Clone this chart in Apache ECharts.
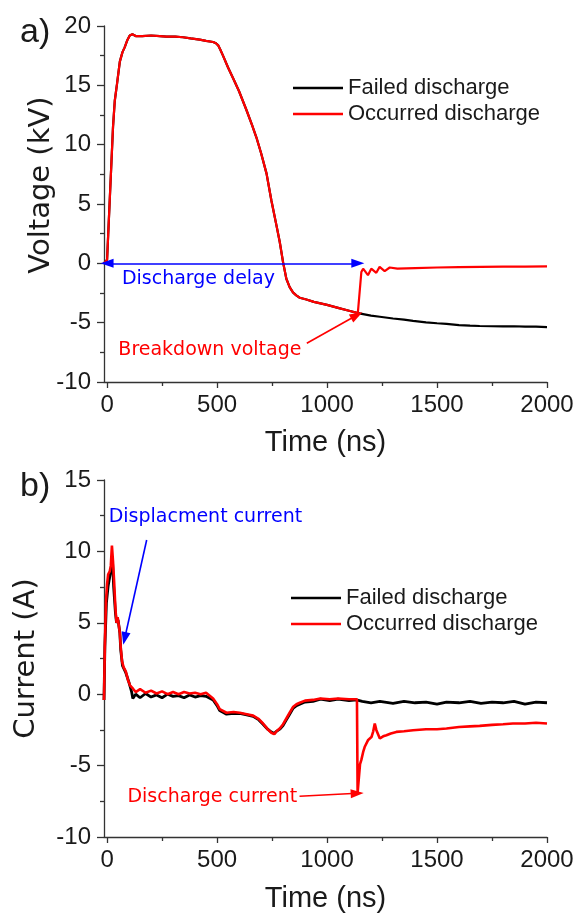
<!DOCTYPE html>
<html>
<head>
<meta charset="utf-8">
<style>
  html, body { margin: 0; padding: 0; background: #fff; }
  #chart { width: 579px; height: 915px; }
</style>
<script src="https://cdn.jsdelivr.net/npm/echarts@6/dist/echarts.min.js"></script>
</head>
<body>
<div id="chart"></div>
<script>
// ---- Panel a) voltage (kV) vs time (ns) ----
// Common part of both shots, up to the breakdown instant
const voltSharedT = [-14, 0, 5, 12, 20, 27, 35, 45, 58, 70, 80, 92, 103, 115, 130, 160, 200, 240, 270, 310, 345, 380, 421, 450, 482, 495, 505, 515, 527, 550, 574, 600, 634, 660, 679, 700, 725, 747, 770, 785, 800, 815, 830, 845, 860, 876, 906, 940, 1000, 1050, 1100, 1140];
const voltSharedV = [0, 0.3, 2.4, 5.3, 8.6, 11.5, 13.7, 15.1, 17.0, 17.8, 18.2, 18.8, 19.2, 19.3, 19.15, 19.15, 19.2, 19.15, 19.1, 19.1, 19.05, 18.95, 18.85, 18.75, 18.65, 18.55, 18.37, 18.0, 17.5, 16.5, 15.56, 14.5, 12.9, 11.6, 10.6, 9.3, 7.56, 5.3, 3.2, 1.8, 0.1, -1.3, -2.0, -2.45, -2.7, -2.9, -3.05, -3.25, -3.5, -3.75, -4.0, -4.2];
// Failed discharge: keeps decaying
const voltFailedTailT = [1200, 1240, 1300, 1350, 1391, 1450, 1500, 1543, 1600, 1650, 1694, 1750, 1800, 1850, 1900, 1950, 2000];
const voltFailedTailV = [-4.4, -4.5, -4.65, -4.75, -4.85, -4.97, -5.05, -5.1, -5.2, -5.25, -5.28, -5.3, -5.32, -5.3, -5.34, -5.33, -5.38];
// Occurred discharge: collapses towards zero
const voltOccurredTailT = [1156, 1164, 1171, 1186, 1201, 1224, 1239, 1262, 1285, 1320, 1400, 1500, 1600, 1700, 1800, 1900, 2000];
const voltOccurredTailV = [-0.73, -0.45, -0.3, -1.0, -0.45, -0.8, -0.3, -0.65, -0.35, -0.45, -0.4, -0.35, -0.32, -0.3, -0.28, -0.27, -0.25];

// ---- Panel b) current (A) vs time (ns) ----
const currFailedT = [-14, -10, -3, 5, 12, 20, 25, 30, 38, 43, 50, 58, 62, 70, 85, 100, 111, 117, 130, 150, 175, 200, 225, 250, 275, 300, 325, 350, 375, 400, 425, 450, 482, 500, 512, 543, 575, 603, 635, 664, 690, 709, 730, 747, 760, 770, 785, 800, 815, 830, 845, 861, 876, 900, 936, 970, 1012, 1050, 1100, 1134, 1160, 1200, 1240, 1300, 1350, 1400, 1450, 1500, 1543, 1600, 1650, 1700, 1750, 1800, 1850, 1900, 1950, 2000];
const currFailedV = [-0.4, 3.3, 6.4, 7.6, 8.2, 8.9, 9.2, 7.5, 5.7, 5.0, 5.2, 4.3, 3.1, 2.0, 1.5, 0.8, 0.2, -0.3, 0.0, -0.25, 0.05, -0.2, -0.05, -0.25, 0.0, -0.15, -0.1, -0.25, -0.05, -0.2, -0.1, -0.15, -0.4, -0.8, -1.15, -1.4, -1.35, -1.35, -1.45, -1.55, -1.8, -2.1, -2.45, -2.65, -2.75, -2.6, -2.45, -2.2, -1.8, -1.4, -1.0, -0.8, -0.7, -0.55, -0.5, -0.35, -0.45, -0.35, -0.45, -0.4, -0.5, -0.6, -0.5, -0.65, -0.5, -0.6, -0.55, -0.7, -0.55, -0.6, -0.5, -0.65, -0.55, -0.6, -0.5, -0.7, -0.55, -0.6];
const currOccurredT = [-14, -10, -5, 0, 5, 12, 17, 22, 27, 32, 38, 43, 48, 52, 58, 62, 68, 75, 85, 95, 105, 117, 130, 150, 175, 200, 225, 250, 275, 300, 325, 350, 375, 400, 425, 450, 482, 500, 512, 543, 575, 603, 635, 664, 690, 709, 730, 747, 760, 770, 785, 800, 815, 830, 845, 861, 876, 900, 936, 970, 1012, 1050, 1100, 1136, 1139, 1147, 1150, 1156, 1165, 1171, 1187, 1202, 1210, 1217, 1224, 1240, 1255, 1270, 1290, 1315, 1350, 1391, 1450, 1500, 1543, 1600, 1650, 1694, 1750, 1800, 1845, 1900, 1950, 2000];
const currOccurredV = [-0.4, 3.5, 6.5, 7.7, 8.4, 8.6, 9.0, 10.4, 9.3, 7.9, 6.0, 5.0, 5.4, 5.3, 4.3, 3.3, 2.3, 1.9, 1.6, 1.0, 0.6, 0.4, 0.15, 0.35, 0.1, 0.25, 0.05, 0.2, 0.0, 0.15, 0.0, 0.15, 0.05, 0.1, 0.0, 0.1, -0.3, -0.7, -1.05, -1.3, -1.25, -1.3, -1.4, -1.5, -1.75, -2.05, -2.45, -2.7, -2.8, -2.6, -2.4, -2.1, -1.7, -1.3, -0.9, -0.7, -0.6, -0.45, -0.4, -0.3, -0.35, -0.3, -0.35, -0.35, -6.9, -7.0, -4.9, -4.6, -4.0, -3.7, -3.2, -3.0, -2.6, -2.05, -2.5, -3.1, -2.95, -2.87, -2.75, -2.64, -2.6, -2.52, -2.45, -2.45, -2.4, -2.3, -2.25, -2.22, -2.15, -2.1, -2.05, -2.05, -2.0, -2.05];

const seriesNames = ['Failed discharge', 'Occurred discharge'];
const xMajorTicks = [0, 500, 1000, 1500, 2000];
const xMinorTicks = [250, 750, 1250, 1750];

function zip(ts, vs) { return ts.map((t, i) => [t, vs[i]]); }

const voltFailed = zip(voltSharedT.concat(voltFailedTailT), voltSharedV.concat(voltFailedTailV));
const voltOccurred = zip(voltSharedT.concat(voltOccurredTailT), voltSharedV.concat(voltOccurredTailV));
const currFailed = zip(currFailedT, currFailedV);
const currOccurred = zip(currOccurredT, currOccurredV);

const AXIS = '#333';
const TXT = '#1a1a1a';
const SANS = 'DejaVu Sans';
const ARIAL = 'Liberation Sans';

function xAxes(gridIndex, nameGap) {
  return [
    {
      type: 'value', gridIndex, min: -14, max: 2000, position: 'bottom',
      name: 'Time (ns)', nameLocation: 'middle', nameGap, nameMoveOverlap: false,
      nameTextStyle: { fontFamily: ARIAL, fontSize: 29, color: TXT },
      axisLine: { show: true, onZero: false, lineStyle: { color: AXIS, width: 1.3 } },
      axisTick: { show: true, length: 6, customValues: xMajorTicks, lineStyle: { color: AXIS, width: 1.3 } },
      axisLabel: { customValues: xMajorTicks, margin: 11, fontFamily: ARIAL, fontSize: 24, color: TXT, formatter: v => String(v) },
      splitLine: { show: false }
    },
    {
      type: 'value', gridIndex, min: -14, max: 2000, position: 'bottom',
      axisLine: { show: false, onZero: false },
      axisTick: { show: true, length: 4, customValues: xMinorTicks, lineStyle: { color: AXIS, width: 1.3 } },
      axisLabel: { show: false },
      splitLine: { show: false }
    }
  ];
}

function yAxis(gridIndex, min, max, name, nameGap, namePad) {
  return {
    type: 'value', gridIndex, min, max, interval: 5,
    name, nameLocation: 'middle', nameGap, nameMoveOverlap: false,
    nameTextStyle: { fontFamily: SANS, fontSize: 29, color: TXT, padding: namePad },
    axisLine: { show: true, onZero: false, lineStyle: { color: AXIS, width: 1.3 } },
    axisTick: { show: true, length: 7, lineStyle: { color: AXIS, width: 1.3 } },
    minorTick: { show: true, splitNumber: 2, length: 4, lineStyle: { color: AXIS, width: 1.3 } },
    axisLabel: { margin: 13, fontFamily: ARIAL, fontSize: 24, color: TXT, formatter: v => String(v) },
    splitLine: { show: false }
  };
}

function legend(left, top) {
  return {
    data: seriesNames, orient: 'vertical', left, top, padding: 0,
    icon: 'rect', itemWidth: 50, itemHeight: 2.5, itemGap: 4,
    textStyle: { fontFamily: ARIAL, fontSize: 22, color: TXT },
    selectedMode: false
  };
}

function note(items) {
  return {
    silent: true, symbol: 'circle', symbolSize: 1,
    itemStyle: { color: 'rgba(0,0,0,0)' },
    data: items.map(n => ({
      coord: n.at, name: n.text,
      label: { show: true, position: 'right', distance: 0, formatter: '{b}', fontFamily: SANS, fontSize: 19, color: n.color }
    }))
  };
}

const chart = echarts.init(document.getElementById('chart'), null, { renderer: 'canvas' });

chart.setOption({
  animation: false,
  backgroundColor: '#fff',
  grid: [
    { left: 104, top: 26, width: 443, height: 356 },
    { left: 104, top: 480, width: 443, height: 357 }
  ],
  xAxis: xAxes(0, 46).concat(xAxes(1, 47)),
  yAxis: [
    yAxis(0, -10, 20, 'Voltage (kV)', 48, [0, 0, 0, 38]),
    yAxis(1, -10, 15, 'Current (A)', 63, [0, 0, 0, 0])
  ],
  legend: [legend(293, 77), legend(291, 587)],
  graphic: [
    { type: 'text', left: 20, top: 16, style: { text: 'a)', font: '34px "Liberation Sans"', fill: TXT } },
    { type: 'text', left: 20, top: 470, style: { text: 'b)', font: '34px "Liberation Sans"', fill: TXT } }
  ],
  series: [
    {
      name: seriesNames[0], type: 'line', xAxisIndex: 0, yAxisIndex: 0,
      data: voltFailed, showSymbol: false, symbol: 'none',
      lineStyle: { color: '#000', width: 2.2 }, itemStyle: { color: '#000' }
    },
    {
      name: seriesNames[1], type: 'line', xAxisIndex: 0, yAxisIndex: 0,
      data: voltOccurred, showSymbol: false, symbol: 'none',
      lineStyle: { color: '#ff0000', width: 2.2 }, itemStyle: { color: '#ff0000' },
      markLine: {
        silent: true, symbol: ['triangle', 'triangle'], symbolSize: [9, 13],
        label: { show: false }, emphasis: { disabled: true },
        data: [
          [{ coord: [0, 0], lineStyle: { color: '#0000ff', width: 1.6, type: 'solid' } }, { coord: [1140, 0] }],
          [{ coord: [908, -6.74], symbol: 'none', lineStyle: { color: '#ff0000', width: 1.6, type: 'solid' } }, { coord: [1135, -4.38], symbol: 'triangle' }]
        ]
      },
      markPoint: note([
        { at: [65, -1.35], text: 'Discharge delay', color: '#0000ff' },
        { at: [49, -7.3], text: 'Breakdown voltage', color: '#ff0000' }
      ])
    },
    {
      name: seriesNames[0], type: 'line', xAxisIndex: 2, yAxisIndex: 1,
      data: currFailed, showSymbol: false, symbol: 'none',
      lineStyle: { color: '#000', width: 2.8 }, itemStyle: { color: '#000' }
    },
    {
      name: seriesNames[1], type: 'line', xAxisIndex: 2, yAxisIndex: 1,
      data: currOccurred, showSymbol: false, symbol: 'none',
      lineStyle: { color: '#ff0000', width: 2.6 }, itemStyle: { color: '#ff0000' },
      markLine: {
        silent: true, symbol: ['none', 'triangle'], symbolSize: [9, 13],
        label: { show: false }, emphasis: { disabled: true },
        data: [
          [{ coord: [180, 10.8], lineStyle: { color: '#0000ff', width: 1.6, type: 'solid' } }, { coord: [80, 3.9] }],
          [{ coord: [875, -7.15], lineStyle: { color: '#ff0000', width: 1.6, type: 'solid' } }, { coord: [1137, -6.94] }]
        ]
      },
      markPoint: note([
        { at: [5, 12.4], text: 'Displacment current', color: '#0000ff' },
        { at: [90, -7.2], text: 'Discharge current', color: '#ff0000' }
      ])
    }
  ]
});
</script>
</body>
</html>
